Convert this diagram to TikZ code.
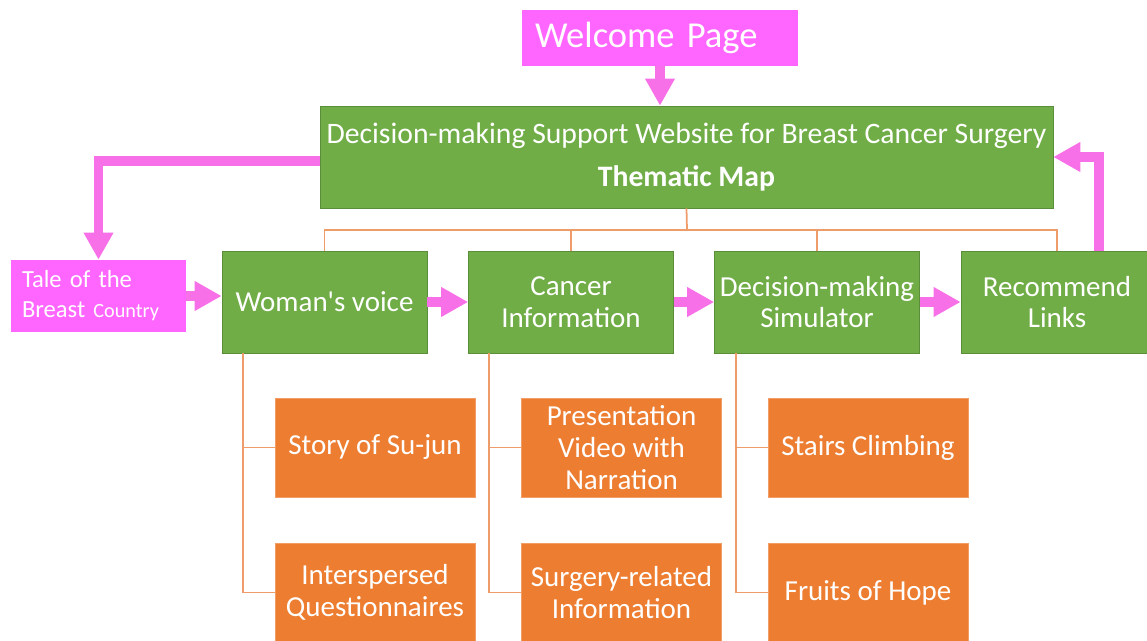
\documentclass[tikz,border=0pt]{standalone}
\usepackage{fontspec}
\setmainfont{Carlito}
\usetikzlibrary{arrows.meta}
\definecolor{leafgreen}{HTML}{70AD47}
\definecolor{leafedge}{HTML}{5B8E3A}
\definecolor{boxorange}{HTML}{ED7D31}
\definecolor{treeline}{HTML}{EE9C6A}
\definecolor{boxpink}{HTML}{FF66FF}
\definecolor{arrowpink}{HTML}{F870E8}

\begin{document}
\begin{tikzpicture}[x=0.02cm,y=-0.02cm,
    topic/.style={draw=leafedge,fill=leafgreen,text=white,inner sep=0pt,
      minimum width=4.1cm,minimum height=2.04cm,align=center,
      font=\fontsize{16.5}{18}\selectfont},
    subtopic/.style={draw=boxorange!75!white,fill=boxorange,text=white,inner sep=0pt,
      minimum width=4cm,minimum height=1.98cm,align=center,
      font=\fontsize{16.5}{18}\selectfont},
    pagebox/.style={fill=boxpink,text=white,align=left,inner ysep=0pt},
    flow/.style={draw=arrowpink,line width=0.2cm,
      -{Triangle[width=0.56cm,length=0.54cm]}},
    tree/.style={draw=treeline,line width=1pt}]
  \useasboundingbox (0,0) rectangle (1147,641);
  \clip (0,0) rectangle (1147,641);

  % top of the site
  \node[pagebox,text width=5cm,inner xsep=0.26cm,minimum height=1.12cm,
    font=\fontsize{20.8}{24}\selectfont] (welcome) at (660,38) {Welcome Page};
  \node[topic,minimum width=14.66cm,font=\fontsize{16.9}{18}\selectfont] (main) at (686.5,157)
    {Decision-making Support Website for Breast Cancer Surgery\\[7pt]\textbf{Thematic Map}};

  % main sections
  \node[pagebox,text width=3.06cm,inner xsep=0.22cm,minimum height=1.44cm,
    font=\fontsize{14}{17}\selectfont] (tale) at (98.5,296)
    {Tale of the\\Breast {\fontsize{11.5}{17}\selectfont Country}};
  \node[topic] (woman) at (324.5,302) {Woman\textquotesingle s voice};
  \node[topic] (cancer) at (571,302) {Cancer\\Information};
  \node[topic] (simulator) at (817,302) {Decision-making\\Simulator};
  \node[topic,minimum width=3.84cm] (links) at (1057,302) {Recommend\\Links};

  % sub pages
  \node[subtopic] (story) at (375,447.5) {Story of Su-jun};
  \node[subtopic] (quest) at (375,592.5) {Interspersed\\Questionnaires};
  \node[subtopic] (video) at (621.5,447.5) {Presentation\\Video with\\Narration};
  \node[subtopic] (surgery) at (621.5,592.5) {Surgery-related\\Information};
  \node[subtopic] (stairs) at (868,447.5) {Stairs Climbing};
  \node[subtopic] (fruits) at (868,592.5) {Fruits of Hope};

  % thematic map tree
  \coordinate (bus) at (687,230);
  \draw[tree] (main.south) -- (bus);
  \foreach \n in {woman,cancer,simulator,links}
    \draw[tree] (bus) -| (\n.north);
  \draw[tree] ([xshift=0.42cm]woman.south west) |- (story.west);
  \draw[tree] ([xshift=0.42cm]woman.south west) |- (quest.west);
  \draw[tree] ([xshift=0.42cm]cancer.south west) |- (video.west);
  \draw[tree] ([xshift=0.42cm]cancer.south west) |- (surgery.west);
  \draw[tree] ([xshift=0.44cm]simulator.south west) |- (stairs.west);
  \draw[tree] ([xshift=0.44cm]simulator.south west) |- (fruits.west);

  % reading order
  \draw[flow] (welcome.south) -- (welcome.south |- main.north);
  \draw[flow] ([yshift=-0.08cm]main.west) -| (tale.north);
  \draw[flow] (tale.east) -- (tale.east -| woman.west);
  \draw[flow] (woman.east) -- (cancer.west);
  \draw[flow] (cancer.east) -- (simulator.west);
  \draw[flow] (simulator.east) -- (links.west);
  \draw[flow] ([xshift=-1.08cm]links.north east) |- (main.east);
\end{tikzpicture}
\end{document}
